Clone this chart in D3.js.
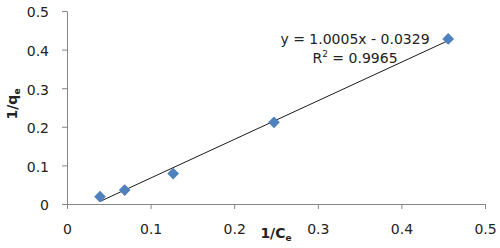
<!DOCTYPE html>
<html>
<head>
<meta charset="utf-8">
<script src="https://cdn.jsdelivr.net/npm/d3@7"></script>
<style>
  body { margin: 0; background: #fff; }
  text { font-family: "DejaVu Sans", sans-serif; fill: #222; }
</style>
</head>
<body>
<svg id="chart"></svg>
<script>
// data
const xValues = [0.0395, 0.069, 0.127, 0.2476, 0.456];
const yValues = [0.019, 0.036, 0.079, 0.2117, 0.4275];
const xTicks = [0, 0.1, 0.2, 0.3, 0.4, 0.5];
const yTicks = [0, 0.1, 0.2, 0.3, 0.4, 0.5];
const slope = 1.0005;
const intercept = -0.0329;
const eqLabel = "y = 1.0005x - 0.0329";
const r2Value = "0.9965";

const width = 500, height = 248;
const margin = {top: 11, right: 15, bottom: 44, left: 67};
const w = width - margin.left - margin.right;
const h = height - margin.top - margin.bottom;

const svg = d3.select("#chart").attr("width", width).attr("height", height);
const chart = svg.append("g").attr("transform", `translate(${margin.left},${margin.top})`);

const x = d3.scaleLinear().domain([0, 0.5]).range([0, w]);
const y = d3.scaleLinear().domain([0, 0.5]).range([h, 0]);

const fmt = d => d === 0 ? "0" : d3.format(".1f")(d);

// axes
const xAxisG = chart.append("g")
    .attr("transform", `translate(0,${h})`)
    .call(d3.axisBottom(x).tickValues(xTicks).tickFormat(fmt).tickSize(5).tickSizeOuter(0).tickPadding(15));
const yAxisG = chart.append("g")
    .call(d3.axisLeft(y).tickValues(yTicks).tickFormat(fmt).tickSize(5).tickSizeOuter(0).tickPadding(13));

[xAxisG, yAxisG].forEach(g => {
  g.selectAll("path, line").attr("stroke", "#868686").attr("stroke-width", 1);
  g.selectAll("text").style("font-size", "14px").attr("fill", "#222");
});
yAxisG.selectAll("text").attr("dy", "0.42em");

// trendline
const xMin = d3.min(xValues), xMax = d3.max(xValues);
chart.append("line")
    .attr("x1", x(xMin)).attr("y1", y(slope * xMin + intercept))
    .attr("x2", x(xMax)).attr("y2", y(slope * xMax + intercept))
    .attr("stroke", "#1a1a1a").attr("stroke-width", 1);

// markers
chart.selectAll(".pt")
    .data(xValues.map((v, i) => [v, yValues[i]]))
    .enter().append("path")
    .attr("class", "pt")
    .attr("d", d3.symbol().type(d3.symbolDiamond2).size(88))
    .attr("transform", d => `translate(${x(d[0])},${y(d[1])})`)
    .attr("fill", "#4F81BD");

// equation label
chart.append("text")
    .attr("x", 355 - margin.left).attr("y", 44 - margin.top)
    .attr("text-anchor", "middle")
    .style("font-size", "14px")
    .text(eqLabel);
const r2 = chart.append("text")
    .attr("x", 355 - margin.left).attr("y", 63 - margin.top)
    .attr("text-anchor", "middle")
    .style("font-size", "14px");
r2.append("tspan").text("R");
r2.append("tspan").attr("dy", -6).style("font-size", "9px").text("2");
r2.append("tspan").attr("dy", 6).text(" = " + r2Value);

// axis titles
const xt = svg.append("text")
    .attr("x", 276).attr("y", 238)
    .attr("text-anchor", "middle")
    .style("font-size", "14px").style("font-weight", "bold");
xt.append("tspan").text("1/C");
xt.append("tspan").attr("dy", 3).style("font-size", "9px").text("e");

const yt = svg.append("text")
    .attr("transform", `translate(17,104) rotate(-90)`)
    .attr("text-anchor", "middle")
    .style("font-size", "14px").style("font-weight", "bold");
yt.append("tspan").text("1/q");
yt.append("tspan").attr("dy", 3).style("font-size", "9px").text("e");
</script>
</body>
</html>
